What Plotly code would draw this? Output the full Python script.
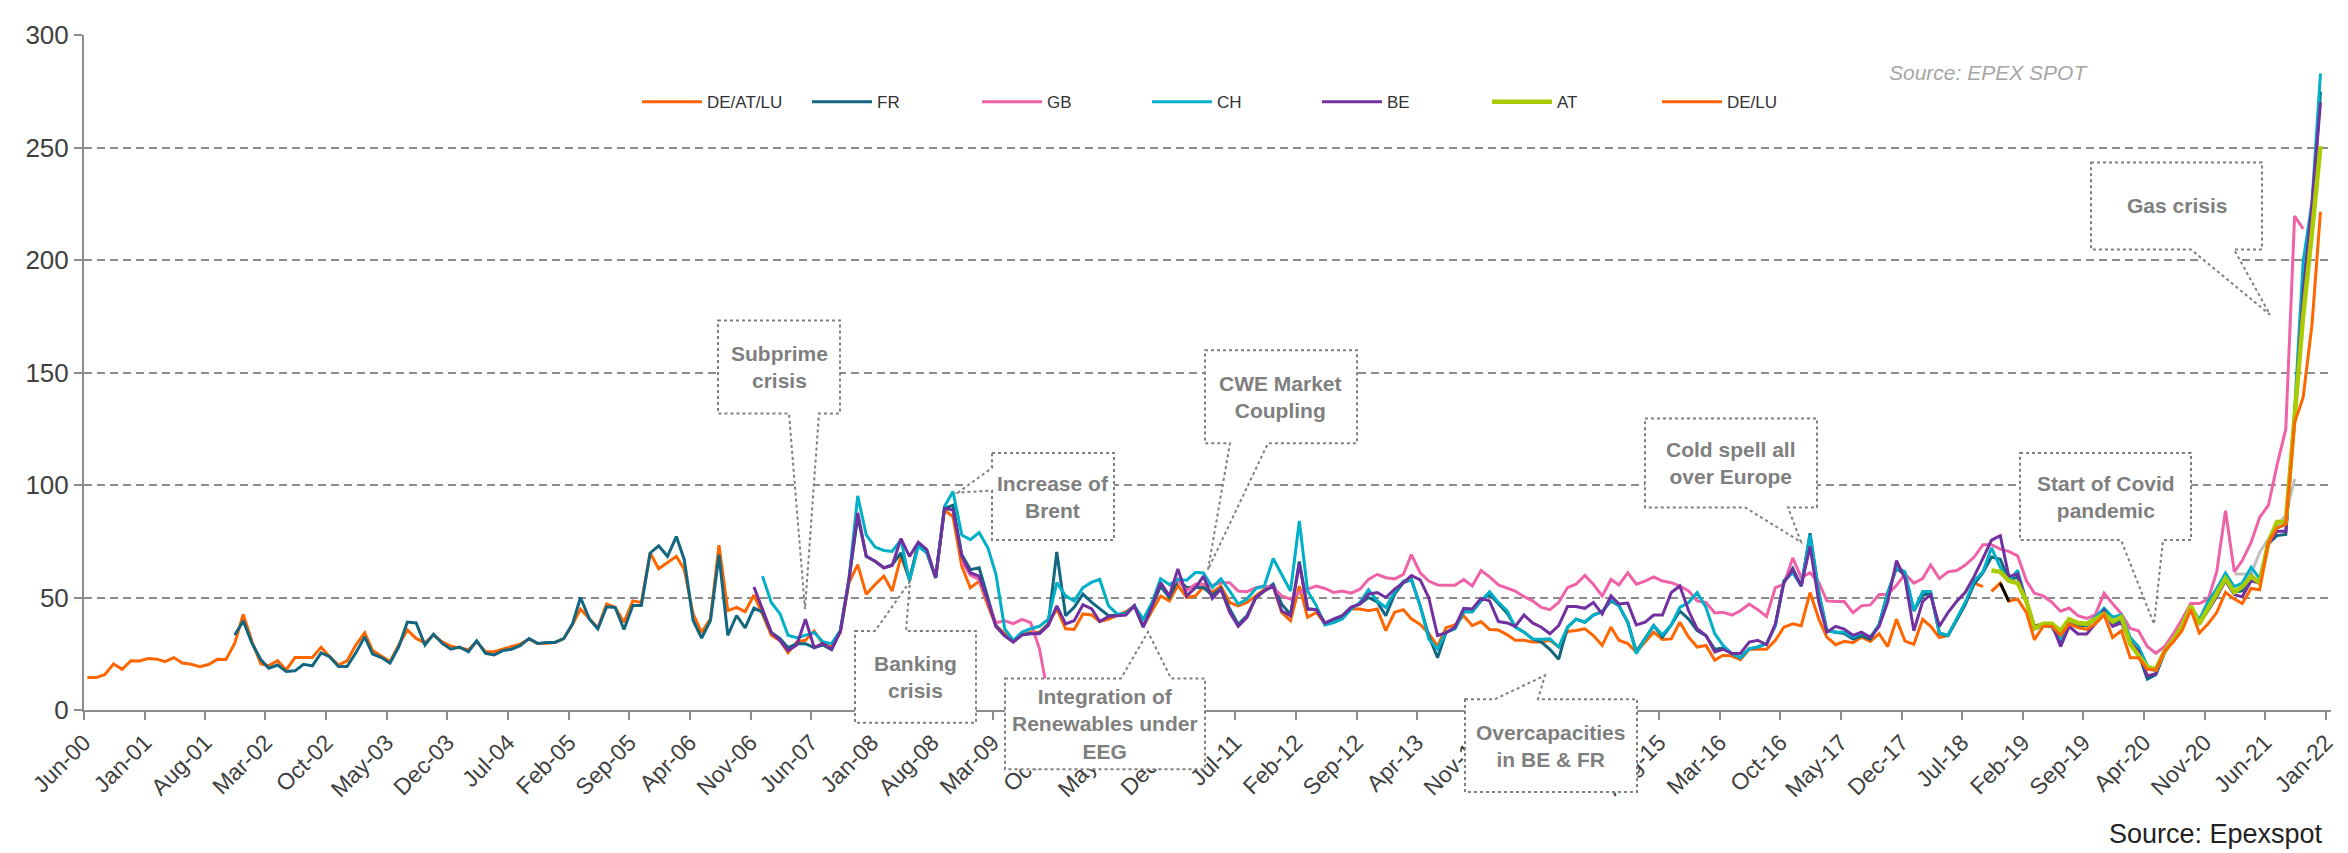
import pandas as pd
import plotly.graph_objects as go

# monthly spot averages (EUR/MWh); index 0 = Jun-00
first_month = "2000-06-01"
n_months = 259  # Jun-00 .. Dec-21

de_at_lu_start = 0
de_at_lu = [14.4, 14.4, 15.7, 20.5, 18.1, 21.9, 21.8, 22.9, 22.6, 21.5,
            23.3, 20.9, 20.3, 19.2, 20.2, 22.5, 22.4, 29.6, 42.5, 30.3,
            20.5, 19.7, 21.9, 17.8, 23.3, 23.3, 23.3, 27.9, 23.7, 20.0,
            21.8, 28.9, 34.3, 26.4, 23.9, 21.5, 28.9, 35.6, 31.8, 29.8,
            33.3, 30.3, 28.4, 27.7, 26.8, 30.3, 25.9, 25.9, 27.1, 28.0,
            29.3, 31.5, 29.6, 29.7, 30.0, 31.7, 38.0, 44.9, 40.5, 36.5,
            47.1, 45.6, 39.0, 48.5, 47.8, 69.8, 62.8, 65.7, 68.3, 62.5,
            42.7, 34.5, 40.5, 73.3, 44.1, 45.6, 43.7, 51.1, 42.7, 33.2,
            30.8, 25.5, 30.3, 31.0, 35.1, 29.5, 28.0, 34.5, 56.5, 64.6,
            51.4, 55.8, 59.5, 52.9, 68.3, 58.0, 74.2, 69.8, 58.8, 88.9,
            85.9, 63.8, 54.3, 57.3, 46.3, 37.5, 34.0, 30.5, 33.4, 34.6,
            34.6, 38.3, 44.9, 36.1, 35.8, 42.7, 42.2, 39.3, 40.4, 42.2,
            43.7, 46.3, 37.2, 44.1, 50.7, 48.5, 55.4, 50.0, 50.7, 54.8,
            52.2, 55.1, 47.8, 46.3, 47.8, 50.7, 53.7, 55.1, 43.4, 39.7,
            55.1, 41.2, 43.4, 38.3, 39.0, 41.9, 44.9, 44.9, 44.1, 44.9,
            35.3, 43.4, 44.6, 40.5, 38.0, 34.0, 28.4, 36.6, 37.8, 41.9,
            37.5, 39.3, 35.8, 35.6, 33.4, 31.0, 31.0, 30.2, 30.2, 31.0,
            28.0, 34.9, 35.3, 36.1, 33.1, 28.7, 36.8, 31.0, 29.5, 25.8,
            30.2, 34.6, 31.4, 31.6, 39.0, 32.4, 28.0, 28.7, 22.1, 24.3,
            24.0, 22.4, 27.0, 27.0, 27.0, 31.0, 36.8, 38.3, 37.5, 52.2,
            40.4, 32.4, 29.0, 30.5, 29.9, 32.4, 30.5, 33.9, 28.2, 40.3,
            30.6, 29.2, 40.3, 37.2, 32.2, 33.2, 40.3, 47.3, 56.4, 54.8]

fr_start = 17
fr = [33.3, 39.6, 29.6,
      22.3, 18.6, 20.0, 17.1, 17.4, 20.3, 19.6, 25.4, 23.7, 19.3,
      19.3, 25.4, 32.5, 24.9, 23.3, 20.8, 28.1, 39.1, 38.7, 28.9,
      33.7, 29.6, 27.0, 28.0, 25.9, 30.8, 25.2, 24.5, 26.4, 27.0,
      28.6, 31.8, 29.6, 30.0, 30.0, 31.7, 38.3, 50.0, 40.5, 36.1,
      45.9, 45.6, 35.8, 46.4, 46.4, 69.8, 73.0, 68.3, 77.1, 66.8,
      39.8, 32.0, 39.8, 69.0, 33.2, 42.0, 36.5, 45.3, 43.5, 34.5,
      31.7, 27.7, 29.5, 29.5, 27.7, 28.9, 26.8, 35.1, 57.5, 86.0,
      68.3, 66.1, 63.2, 64.5, 69.8, 58.0, 74.0, 70.5, 58.8, 89.6,
      91.0, 69.0, 62.4, 63.2, 49.2, 37.5, 33.0, 30.5, 33.4, 34.0,
      34.2, 38.0, 70.2, 41.9, 45.6, 51.5, 47.8, 44.9, 41.9, 42.2,
      43.0, 46.3, 37.0, 46.0, 55.0, 50.0, 58.0, 54.4, 54.4, 54.4,
      51.0, 54.0, 45.0, 38.0, 42.0, 50.0, 53.0, 56.0, 47.0, 42.5,
      66.0, 45.0, 44.6, 38.6, 40.0, 41.9, 45.6, 47.1, 50.0, 48.0,
      41.9, 51.5, 56.6, 58.0, 46.3, 33.0, 23.2, 34.6, 36.1, 43.7,
      43.7, 48.5, 51.5, 47.0, 43.0, 37.0, 34.6, 31.6, 30.2, 27.0,
      22.6, 36.8, 40.4, 39.0, 42.2, 43.7, 48.5, 46.3, 39.0, 26.0,
      31.6, 37.5, 32.4, 37.8, 44.0, 40.4, 35.3, 33.0, 27.0, 27.5,
      25.1, 23.2, 27.2, 28.0, 29.5, 37.5, 57.3, 63.0, 55.1, 78.6,
      52.2, 35.3, 34.6, 34.0, 31.5, 33.0, 31.5, 38.0, 52.0, 63.0,
      60.0, 44.0, 51.0, 52.0, 34.0, 33.0, 40.0, 47.0, 56.0, 61.0,
      68.0, 67.0, 58.0, 59.0, 48.0, 36.0, 37.5, 37.0, 30.5, 38.5,
      37.5, 37.5, 40.5, 44.5, 38.5, 40.0, 30.0, 25.0, 13.7, 15.7,
      25.5, 31.0, 37.0, 46.0, 39.5, 46.0, 52.5, 59.0, 52.5, 53.0,
      60.0, 56.0, 74.0, 77.5, 78.0, 131.0, 190.0, 218.0, 274.8]

gb_start = 101
gb = [66.0, 60.0, 58.0, 48.0, 38.8, 39.6, 38.4, 40.3, 38.8,
      27.3, 6.0,
      None, None, None, None, None, None, None, None, None, None, None, None, None,
      55.0, 58.0, 53.0, 56.0, 55.9,
      55.4, 56.6, 56.6, 52.9, 52.6, 54.4, 55.1, 54.4, 50.7, 49.3,
      52.2, 53.7, 55.1, 54.0, 52.2, 52.9, 51.9, 53.7, 58.0, 60.3,
      58.8, 58.3, 60.3, 69.1, 61.0, 57.3, 55.6, 55.4, 55.4, 58.0,
      55.1, 62.0, 59.2, 55.6, 54.0, 52.9, 50.4, 48.5, 45.6, 44.6,
      47.8, 54.4, 55.9, 59.8, 55.9, 50.7, 58.0, 55.6, 61.0, 55.9,
      57.3, 59.2, 57.3, 56.6, 55.1, 52.9, 48.5, 47.8, 43.1, 43.4,
      42.2, 44.1, 47.1, 44.6, 41.6, 54.4, 55.9, 67.6, 58.8, 61.0,
      56.6, 48.5, 48.2, 48.2, 43.3, 46.3, 46.7, 51.3, 51.3, 55.4,
      60.4, 56.4, 58.4, 64.4, 58.4, 61.4, 62.0, 64.4, 68.0, 73.5,
      73.5, 71.5, 70.5, 68.5, 57.4, 51.9, 50.7, 47.9, 43.9, 45.3,
      41.9, 40.7, 42.3, 51.9, 47.3, 42.7, 36.2, 35.2, 28.2, 25.2,
      28.2, 33.8, 40.3, 47.3, 47.3, 49.3, 61.4, 88.6, 61.4, 66.4,
      74.5, 85.6, 91.0, 108.7, 124.8, 219.5, 213.8]

ch_start = 78
ch = [59.5, 47.8,
      42.7, 33.2, 32.0, 33.2, 34.5, 30.3, 29.5, 35.4, 58.2, 95.2,
      77.8, 72.4, 70.9, 70.5, 75.6, 57.3, 72.7, 69.8, 58.8, 90.5,
      97.1, 77.8, 75.7, 78.9, 72.0, 60.3, 36.1, 31.0, 34.6, 36.1,
      37.2, 40.4, 56.6, 50.7, 48.5, 54.4, 56.8, 58.0, 46.3, 42.7,
      42.7, 46.3, 40.4, 47.8, 58.3, 55.8, 58.0, 57.7, 61.2, 60.9,
      54.4, 58.3, 52.9, 47.1, 49.3, 54.0, 55.1, 67.3, 60.3, 52.9,
      84.0, 52.9, 46.3, 37.8, 38.9, 40.4, 44.8, 47.8, 53.4, 48.5,
      45.6, 52.5, 57.3, 58.0, 46.3, 31.6, 27.2, 34.6, 36.1, 43.7,
      43.7, 48.5, 52.5, 47.8, 44.1, 36.8, 34.6, 31.6, 31.4, 31.6,
      28.0, 36.8, 40.4, 39.0, 42.2, 43.7, 49.3, 46.3, 39.0, 25.1,
      31.6, 37.5, 33.4, 37.8, 45.6, 47.8, 52.2, 45.6, 33.9, 28.7,
      25.1, 23.2, 27.2, 28.0, 29.5, 37.5, 57.3, 61.0, 55.1, 77.9,
      52.2, 35.3, 34.6, 34.6, 32.4, 34.3, 32.4, 38.0, 52.0, 63.4,
      61.4, 44.3, 52.7, 52.7, 34.2, 33.2, 40.7, 47.9, 57.4, 61.4,
      72.1, 63.4, 57.4, 62.0, 48.3, 37.2, 37.9, 37.2, 31.2, 39.3,
      38.7, 38.3, 41.3, 45.3, 41.3, 42.3, 32.2, 28.2, 19.7, 17.1,
      26.2, 31.2, 37.2, 45.9, 40.3, 48.3, 54.0, 60.8, 54.8, 56.4,
      63.4, 58.4, 74.5, 80.9, 82.5, 132.9, 199.3, 225.5, 282.9]

be_start = 77
be = [54.7, 44.9, 34.5,
      30.8, 26.4, 28.9, 40.4, 27.7, 29.6, 27.0, 35.1, 58.0, 87.6,
      68.3, 66.1, 63.2, 64.2, 76.1, 68.3, 74.5, 71.3, 58.8, 89.6,
      88.9, 68.3, 61.0, 59.5, 48.5, 37.0, 33.0, 30.2, 33.4, 33.9,
      33.9, 37.5, 46.3, 38.3, 39.7, 46.8, 44.9, 39.3, 41.6, 42.0,
      42.2, 46.3, 36.8, 46.3, 56.6, 50.7, 62.7, 50.7, 54.4, 59.5,
      49.6, 53.7, 43.4, 37.2, 41.2, 50.0, 52.9, 55.1, 44.0, 41.9,
      65.1, 44.9, 44.6, 38.6, 40.5, 41.9, 45.6, 47.1, 51.5, 52.2,
      50.0, 53.7, 56.6, 59.8, 57.8, 50.0, 33.1, 34.3, 36.8, 45.2,
      44.9, 49.6, 48.5, 39.3, 38.7, 37.2, 42.2, 38.7, 36.8, 33.9,
      37.5, 46.0, 46.0, 45.2, 47.8, 42.7, 50.7, 47.1, 47.5, 37.8,
      39.0, 42.2, 42.2, 52.2, 55.1, 44.1, 36.1, 33.1, 25.8, 27.0,
      25.1, 25.1, 30.2, 31.0, 29.0, 38.3, 56.6, 62.5, 55.1, 72.7,
      47.8, 34.6, 37.2, 36.0, 33.2, 34.6, 32.2, 37.2, 48.0, 66.4,
      58.4, 35.2, 48.3, 51.3, 37.2, 43.3, 48.3, 52.3, 59.4, 67.4,
      75.5, 77.5, 59.4, 60.4, 48.3, 37.2, 38.3, 38.3, 28.2, 37.2,
      33.8, 33.8, 38.3, 44.3, 37.2, 38.7, 30.2, 26.2, 15.1, 16.1,
      26.2, 31.2, 37.2, 46.3, 38.7, 44.3, 50.3, 57.4, 51.3, 50.3,
      57.4, 56.4, 73.5, 79.5, 79.5, 130.0, 185.0, 225.0, 270.0]

at_start = 220
at = [62.0, 61.4, 57.4, 56.4, 48.3, 36.2, 38.3, 38.3, 35.2, 40.3,
      38.7, 38.3, 40.3, 42.7, 39.3, 41.3, 29.2, 24.2, 19.1, 18.1,
      26.2, 31.2, 37.2, 46.3, 38.3, 45.3, 51.3, 58.4, 52.3, 54.8,
      59.4, 56.4, 74.5, 83.6, 83.6, 132.9, 175.0, 212.0, 250.6]

de_lu_start = 220
de_lu = [52.7, 56.4, 48.3, 49.3, 43.3, 31.2, 37.2, 37.2, 33.2, 38.3,
         36.6, 35.8, 38.3, 42.3, 32.2, 35.2, 23.2, 23.2, 18.1, 17.7,
         26.2, 30.2, 35.2, 44.7, 34.2, 38.3, 43.3, 52.3, 49.3, 47.3,
         54.0, 53.4, 74.5, 80.9, 82.5, 127.8, 138.9, 171.1, 221.5]

# stray unlabelled stubs visible in the source chart
grey_start = 248
grey = [60.4, 60.4, 60.4, 70.0, 76.0, 82.0, 86.6, 102.7]
black_start = 221
black = [56.4, 48.3]

tick_labels = ["Jun-00", "Jan-01", "Aug-01", "Mar-02", "Oct-02", "May-03", "Dec-03",
               "Jul-04", "Feb-05", "Sep-05", "Apr-06", "Nov-06", "Jun-07", "Jan-08",
               "Aug-08", "Mar-09", "Oct-09", "May-10", "Dec-10", "Jul-11", "Feb-12",
               "Sep-12", "Apr-13", "Nov-13", "Jun-14", "Jan-15", "Aug-15", "Mar-16",
               "Oct-16", "May-17", "Dec-17", "Jul-18", "Feb-19", "Sep-19", "Apr-20",
               "Nov-20", "Jun-21", "Jan-22"]

series = [
    ("DE/AT/LU", de_at_lu, de_at_lu_start, "#FF6600", 3),
    ("FR", fr, fr_start, "#126680", 3),
    ("GB", gb, gb_start, "#F062A8", 3),
    ("CH", ch, ch_start, "#00AFC8", 3),
    ("BE", be, be_start, "#7030A0", 3),
    ("AT", at, at_start, "#A9CB00", 4.5),
    ("DE/LU", de_lu, de_lu_start, "#FF6600", 3),
]

months = pd.date_range(first_month, periods=n_months, freq="MS") + pd.Timedelta(days=12)
tick_vals = pd.to_datetime(tick_labels, format="%b-%y")

FONT = "Liberation Sans, Arial, sans-serif"
GREY = "#7f7f7f"
AXIS = "#8c8c8c"

fig = go.Figure()

fig.add_trace(go.Scatter(x=months[grey_start:grey_start + len(grey)], y=grey, mode="lines",
                         line=dict(color="#bfbfbf", width=3), showlegend=False, hoverinfo="skip"))

for name, vals, start, color, width in series:
    fig.add_trace(go.Scatter(
        x=months[start:start + len(vals)], y=vals,
        mode="lines", name=name,
        line=dict(color=color, width=width),
        connectgaps=False,
    ))

fig.add_trace(go.Scatter(x=months[black_start:black_start + len(black)], y=black, mode="lines",
                         line=dict(color="black", width=3), showlegend=False, hoverinfo="skip"))

# callout boxes, in page pixels: box (x0, x1, y0, y1), tail side, tail base, tail tip
L, T, W, H = 76, 19, 2247, 683


def px(x):
    return (x - L) / W


def py(y):
    return (T + H - y) / H


callouts = [
    ("Subprime<br>crisis", (710, 832, 308, 402), "bottom", (781, 811), (797, 600)),
    ("Banking<br>crisis", (847, 968, 622, 715), "top", (867, 898), (902, 572)),
    ("Increase of<br>Brent", (984, 1106, 442, 530), "left", (457, 480), (950, 482)),
    ("Integration of<br>Renewables under<br>EEG", (997, 1197, 670, 762), "top", (1113, 1163), (1140, 623)),
    ("CWE Market<br>Coupling", (1197, 1349, 338, 432), "bottom", (1222, 1260), (1200, 560)),
    ("Overcapacities<br>in BE & FR", (1457, 1629, 691, 785), "top", (1487, 1530), (1537, 667)),
    ("Cold spell all<br>over Europe", (1637, 1809, 407, 497), "bottom", (1737, 1780), (1793, 532)),
    ("Start of Covid<br>pandemic", (2012, 2183, 442, 530), "bottom", (2113, 2155), (2146, 615)),
    ("Gas crisis", (2083, 2254, 148, 236), "bottom", (2183, 2226), (2262, 302)),
]

shapes = []
annotations = []
for text, (x0, x1, y0, y1), side, (a, b), (tx, ty) in callouts:
    if side == "bottom":
        pts = [(x0, y0), (x1, y0), (x1, y1), (b, y1), (tx, ty), (a, y1), (x0, y1)]
    elif side == "top":
        pts = [(x0, y0), (a, y0), (tx, ty), (b, y0), (x1, y0), (x1, y1), (x0, y1)]
    else:
        pts = [(x0, y0), (x1, y0), (x1, y1), (x0, y1), (x0, b), (tx, ty), (x0, a)]
    path = "M " + " L ".join(f"{px(x):.5f},{py(y):.5f}" for x, y in pts) + " Z"
    shapes.append(dict(type="path", xref="paper", yref="paper", path=path,
                       line=dict(color=GREY, width=2, dash="dot"),
                       fillcolor="white", layer="above"))
    annotations.append(dict(xref="paper", yref="paper",
                            x=px((x0 + x1) / 2), y=py((y0 + y1) / 2),
                            xanchor="center", yanchor="middle",
                            text=text, showarrow=False, align="center",
                            font=dict(family=FONT, size=21, color=GREY, weight="bold")))

annotations.append(dict(xref="paper", yref="paper", x=px(1879), y=py(57),
                        xanchor="left", yanchor="middle", showarrow=False,
                        text="Source: EPEX SPOT",
                        font=dict(family=FONT, size=21, color="#a6a6a6", style="italic")))
annotations.append(dict(xref="paper", yref="paper", x=px(2317), y=py(827),
                        xanchor="right", yanchor="middle", showarrow=False,
                        text="Source: Epexspot",
                        font=dict(family=FONT, size=27, color="#222222")))

fig.update_layout(
    width=2348, height=853,
    margin=dict(l=L, r=2348 - L - W, t=T, b=853 - T - H),
    plot_bgcolor="white", paper_bgcolor="white",
    font=dict(family=FONT, color="#404040"),
    shapes=shapes, annotations=annotations,
    legend=dict(orientation="h", x=px(629), y=py(87), xanchor="left", yanchor="middle",
                font=dict(family=FONT, size=17, color="#333333"),
                entrywidth=95, entrywidthmode="pixels", itemwidth=60,
                bgcolor="rgba(0,0,0,0)", traceorder="normal"),
    xaxis=dict(type="date", range=["2000-06-01", "2022-01-19"],
               tickvals=tick_vals, ticktext=tick_labels, tickangle=-45,
               tickfont=dict(size=23, color="#404040"),
               showgrid=False, zeroline=False,
               showline=True, linecolor=AXIS, linewidth=2,
               ticks="outside", ticklen=8, tickcolor=AXIS, tickwidth=1.5),
    yaxis=dict(range=[0, 300], tickvals=[0, 50, 100, 150, 200, 250, 300],
               tickfont=dict(size=26, color="#404040"),
               showgrid=True, gridcolor=AXIS, gridwidth=1.5, griddash="8px,5px",
               zeroline=False, showline=True, linecolor=AXIS, linewidth=2,
               ticks="outside", ticklen=8, tickcolor=AXIS, tickwidth=1.5),
)

fig.write_html("out.html")
